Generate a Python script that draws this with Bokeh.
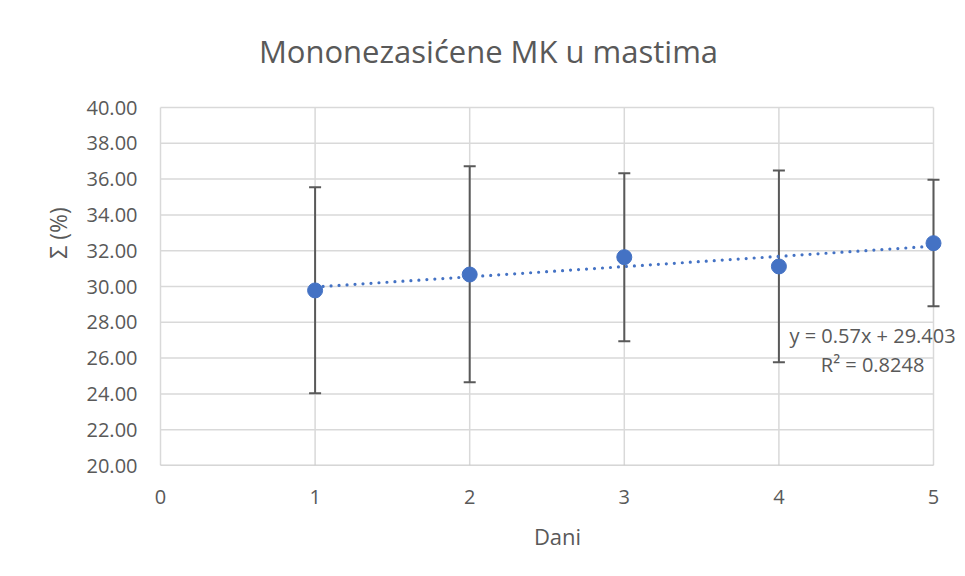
from bokeh.plotting import figure
from bokeh.models import ColumnDataSource, Label, FixedTicker, CustomJSTickFormatter
from bokeh.embed import file_html
from bokeh.resources import INLINE
import numpy as np

# data
days = [1, 2, 3, 4, 5]
means = [29.78, 30.67, 31.64, 31.12, 32.42]
upper = [35.55, 36.72, 36.33, 36.48, 35.96]
lower = [24.04, 24.65, 26.94, 25.77, 28.90]
slope = 0.57
intercept = 29.403
r2 = 0.8248
x_ticks = [0, 1, 2, 3, 4, 5]
y_ticks = [20, 22, 24, 26, 28, 30, 32, 34, 36, 38, 40]

title_text = "Mononezasićene MK u mastima"
x_label = "Dani"
y_label = "Σ (%)"

FONT = "Open Sans"
TXT = "#595959"
GRID = "#d9d9d9"
BLUE = "#4472C4"

XMIN, XMAX = x_ticks[0], x_ticks[-1]
YMIN, YMAX = y_ticks[0], y_ticks[-1]
PX_X = 154.6   # pixels per x unit
PX_Y = 17.9    # pixels per y unit

W, H = 957, 568
left_b, bottom_b = 157, 103
frame_w = W - left_b
frame_h = H - bottom_b
x0 = XMIN - (160 - left_b) / PX_X
x1 = x0 + frame_w / PX_X
y1 = YMIN + frame_h / PX_Y

p = figure(width=W, height=H, output_backend="svg", toolbar_location=None,
           x_range=(x0, x1), y_range=(YMIN, y1), min_border_left=left_b, min_border_right=0,
           min_border_top=0, min_border_bottom=bottom_b)
p.outline_line_color = None
p.background_fill_color = "white"
p.border_fill_color = "white"
p.xgrid.visible = False
p.ygrid.visible = False

for ax in (p.xaxis[0], p.yaxis[0]):
    ax.major_tick_line_color = None
    ax.minor_tick_line_color = None
    ax.major_tick_out = 0
    ax.major_tick_in = 0
    ax.minor_tick_out = 0
    ax.minor_tick_in = 0
    ax.axis_line_color = None
    ax.major_label_text_font = FONT
    ax.major_label_text_color = TXT
    ax.major_label_text_font_size = "20px"
    ax.axis_label_text_font = FONT
    ax.axis_label_text_color = TXT
    ax.axis_label_text_font_style = "normal"

p.xaxis.ticker = FixedTicker(ticks=x_ticks)
p.yaxis.ticker = FixedTicker(ticks=y_ticks)
p.yaxis.formatter = CustomJSTickFormatter(code="return tick.toFixed(2);")
p.xaxis.major_label_standoff = 24
p.yaxis.major_label_standoff = 20
p.xaxis.axis_label = x_label
p.yaxis.axis_label = y_label
p.xaxis.axis_label_text_font_size = "22px"
p.yaxis.axis_label_text_font_size = "23px"
p.xaxis.axis_label_standoff = 14
p.yaxis.axis_label_standoff = 10

# grid lines limited to the plot area
p.segment(x0=x_ticks, y0=[YMIN] * len(x_ticks), x1=x_ticks, y1=[YMAX] * len(x_ticks),
          line_color=GRID, line_width=1.5)
p.segment(x0=[XMIN] * len(y_ticks), y0=y_ticks, x1=[XMAX] * len(y_ticks), y1=y_ticks,
          line_color=GRID, line_width=1.5)
# horizontal axis line
p.segment(x0=[XMIN], y0=[YMIN], x1=[XMAX], y1=[YMIN], line_color="#bfbfbf", line_width=1.5)

src = ColumnDataSource(dict(x=days, y=means, up=upper, lo=lower))

# error bars
p.segment(x0="x", y0="lo", x1="x", y1="up", source=src, line_color=TXT, line_width=2)
p.scatter(x="x", y="up", source=src, marker="dash", size=12, line_color=TXT, line_width=2)
p.scatter(x="x", y="lo", source=src, marker="dash", size=12, line_color=TXT, line_width=2)

# trendline
tx = np.array([days[0], days[-1]], dtype=float)
p.line(tx, slope * tx + intercept, line_color=BLUE, line_width=3.2, line_dash="0 8",
       line_cap="round")

p.scatter("x", "y", source=src, size=15, fill_color=BLUE, line_color=BLUE)

p.add_layout(Label(x=2.1216, y=43.13, text=title_text, text_font=FONT, text_font_size="31px",
                   text_color=TXT, text_align="center", text_baseline="alphabetic"))
p.add_layout(Label(x=4.606, y=27.25, text=f"y = {slope}x + {intercept}", text_font=FONT,
                   text_font_size="20px", text_color=TXT, text_align="center",
                   text_baseline="alphabetic"))
p.add_layout(Label(x=4.606, y=25.65, text=f"R² = {r2}", text_font=FONT,
                   text_font_size="20px", text_color=TXT, text_align="center",
                   text_baseline="alphabetic"))

open("out.html", "w").write(file_html(p, INLINE))
